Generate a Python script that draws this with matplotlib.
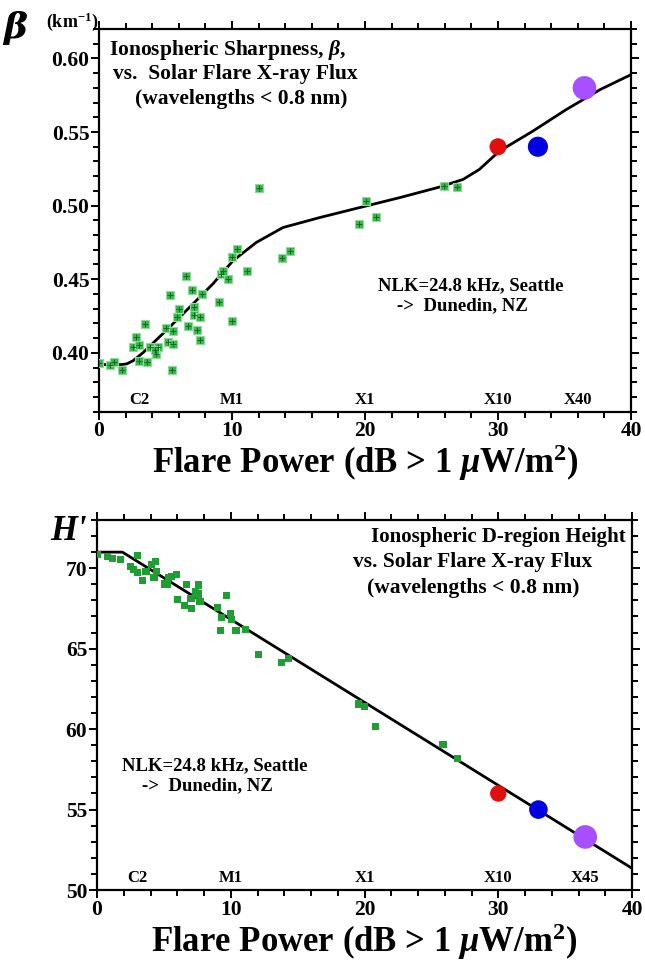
import matplotlib
matplotlib.use("Agg")
import matplotlib.pyplot as plt
from matplotlib.ticker import MultipleLocator

plt.rcParams['font.family'] = ['Liberation Serif', 'DejaVu Serif']
plt.rcParams['font.weight'] = 'bold'
plt.rcParams['mathtext.fontset'] = 'custom'
plt.rcParams['mathtext.rm'] = 'Liberation Serif:bold'
plt.rcParams['mathtext.it'] = 'Liberation Serif:bold:italic'
plt.rcParams['mathtext.bf'] = 'Liberation Serif:bold'

# ---- top panel: sharpness beta ----
beta_x = [0.0, 0.8, 1.13, 1.73, 2.56, 3.0, 2.8, 3.44, 3.0, 3.64, 3.81, 4.26, 4.44, 4.19,
          5.07, 5.19, 5.56, 5.56, 5.47, 5.32, 6.02, 5.86, 6.52, 6.72, 7.02, 7.12, 7.12,
          7.37, 7.57, 7.57, 7.72, 9.05, 9.15, 9.32, 9.67, 10.0, 10.0, 10.4, 11.15, 12.06,
          13.79, 14.34, 20.05, 19.55, 20.8, 25.92, 26.9]
beta_y = [0.3932, 0.3917, 0.3939, 0.3883, 0.404, 0.405, 0.411, 0.4196, 0.3946, 0.3937,
          0.404, 0.3989, 0.404, 0.4018, 0.4169, 0.4074, 0.4147, 0.4057, 0.3881, 0.439,
          0.4295, 0.4243, 0.4523, 0.418, 0.443, 0.431, 0.426, 0.4158, 0.4243, 0.4084,
          0.4401, 0.4345, 0.4536, 0.4554, 0.4503, 0.4216, 0.4653, 0.4705, 0.4559, 0.5118,
          0.4647, 0.4694, 0.5032, 0.4878, 0.4926, 0.5135, 0.5126]
beta_fit_x = [0, 1.7, 2.1, 2.56, 3.3, 5.07, 6.82, 8.57, 10.08, 11.83, 13.83, 16.6, 20.1,
              22.6, 25.6, 27.37, 28.6, 30.1, 32.6, 35.1, 37.65, 40]
beta_fit_y = [0.392, 0.392, 0.3925, 0.3946, 0.400, 0.4153, 0.431, 0.4469, 0.4626, 0.475,
              0.4851, 0.4919, 0.4998, 0.5054, 0.5126, 0.5178, 0.5246, 0.537, 0.5505,
              0.5651, 0.5787, 0.589]

# big flare events (red, blue, purple)
big_x = [30, 33, 36.5]
beta_big = [0.54, 0.54, 0.58]
big_colors = ['#e01010', '#0000e0', '#a850ff']
big_sizes_top = [150, 210, 290]
big_sizes_bot = [140, 180, 290]

# ---- bottom panel: height H' ----
h_x = [0.0, 0.77, 1.17, 1.77, 2.52, 2.72, 3.02, 3.04, 3.41, 3.66, 4.09, 4.34, 4.46, 4.26,
       5.08, 5.33, 5.26, 5.58, 5.91, 6.01, 6.53, 6.71, 7.08, 7.03, 7.35, 7.58, 7.58, 7.70,
       9.02, 9.32, 9.65, 9.2, 10.0, 10.07, 10.39, 11.11, 12.06, 13.8, 14.3, 19.54, 19.99,
       20.81, 25.87, 26.92]
h_y = [70.83, 70.75, 70.63, 70.54, 70.13, 69.92, 69.75, 70.79, 69.23, 69.81, 70.21, 70.42,
       69.79, 69.44, 69.02, 69.44, 69.02, 69.48, 69.63, 68.04, 67.69, 69.0, 67.5, 68.13,
       68.54, 68.96, 68.4, 67.92, 67.56, 66.94, 68.29, 66.15, 67.21, 66.83, 66.15, 66.21,
       64.65, 64.12, 64.37, 61.56, 61.42, 60.17, 59.03, 58.2]
h_fit_x = [0, 1.9, 40]
h_fit_y = [71.0, 71.0, 51.35]
h_big = [56.0, 55.0, 53.3]

class_x_top = [3, 10, 20, 30, 36]
class_lab_top = ['C2', 'M1', 'X1', 'X10', 'X40']
class_x_bot = [3, 10, 20, 30, 36.5]
class_lab_bot = ['C2', 'M1', 'X1', 'X10', 'X45']

fig = plt.figure(figsize=(6.45, 9.67), dpi=100)
ax1 = fig.add_axes([0.1535, 0.5743, 0.8248, 0.3957])
ax2 = fig.add_axes([0.1504, 0.0796, 0.8295, 0.3827])


def style_axis(ax, ymaj, ymin):
    ax.set_xlim(0, 40)
    ax.xaxis.set_major_locator(MultipleLocator(10))
    ax.xaxis.set_minor_locator(MultipleLocator(2))
    ax.yaxis.set_major_locator(MultipleLocator(ymaj))
    ax.yaxis.set_minor_locator(MultipleLocator(ymin))
    for s in ax.spines.values():
        s.set_linewidth(1.6)
    ax.tick_params(which='both', direction='out', top=True, right=True,
                   labeltop=False, labelright=False, width=1.4)
    ax.tick_params(which='major', length=6, labelsize=15.5, pad=1)
    ax.tick_params(which='minor', length=4)
    ax.set_xlabel(r'Flare Power (dB > 1 $\mu$W/m$^{2}$)', fontsize=25,
                  fontweight='bold', labelpad=1)


# top panel
style_axis(ax1, 0.05, 0.01)
ax1.set_ylim(0.36, 0.62)
ax1.set_yticks([0.40, 0.45, 0.50, 0.55, 0.60])
ax1.set_yticklabels(['0.40', '0.45', '0.50', '0.55', '0.60'])
ax1.plot(beta_fit_x, beta_fit_y, color='black', lw=2.0, zorder=2)
ax1.scatter(beta_x, beta_y, marker='s', s=36, color='#3cb450', edgecolors='#8edc98',
            linewidths=0.8, zorder=3)
ax1.scatter(beta_x, beta_y, marker='+', s=14, color='#0d6a20', linewidths=0.7, zorder=4)
ax1.scatter(big_x, beta_big, s=big_sizes_top, c=big_colors, zorder=5, edgecolors='none')

ax1.text(9.68, 0.6059, r'Ionospheric Sharpness, $\beta$,', fontsize=15.5, ha='center', va='center')
ax1.text(10.24, 0.5896, 'vs.  Solar Flare X-ray Flux', fontsize=15.5, ha='center', va='center')
ax1.text(10.73, 0.5727, '(wavelengths < 0.8 nm)', fontsize=15.5, ha='center', va='center')
ax1.text(20.95, 0.4457, 'NLK=24.8 kHz, Seattle', fontsize=13.5, ha='left', va='center')
ax1.text(22.38, 0.4322, '->  Dunedin, NZ', fontsize=13.5, ha='left', va='center')
for x, lab in zip(class_x_top, class_lab_top):
    ax1.text(x, 0.3676, lab, fontsize=12, ha='center', va='center')

# bottom panel
style_axis(ax2, 5, 1)
ax2.set_ylim(50, 73)
ax2.plot(h_fit_x, h_fit_y, color='black', lw=2.0, zorder=2)
ax2.scatter(h_x, h_y, marker='s', s=26, color='#1f9e34', edgecolors='none', zorder=3)
ax2.scatter(big_x, h_big, s=big_sizes_bot, c=big_colors, zorder=5, edgecolors='none')

ax2.text(30.0, 71.93, 'Ionospheric D-region Height', fontsize=15, ha='center', va='center')
ax2.text(28.07, 70.37, 'vs. Solar Flare X-ray Flux', fontsize=15.5, ha='center', va='center')
ax2.text(28.1, 68.75, '(wavelengths < 0.8 nm)', fontsize=15.5, ha='center', va='center')
ax2.text(1.85, 57.72, 'NLK=24.8 kHz, Seattle', fontsize=13.5, ha='left', va='center')
ax2.text(3.34, 56.47, '->  Dunedin, NZ', fontsize=13.5, ha='left', va='center')
for x, lab in zip(class_x_bot, class_lab_bot):
    ax2.text(x, 50.74, lab, fontsize=12, ha='center', va='center')

# axis-corner symbols
fig.text(3 / 645, 1 - 28 / 967, 'β', fontsize=26, family='DejaVu Serif',
         fontstyle='italic', ha='left', va='center')
fig.text(46 / 645, 1 - 22 / 967, r'(km$^{\mathbf{-1}}$)', fontsize=13, ha='left', va='center')
fig.text(50 / 645, 1 - 532 / 967, "H'", fontsize=25, fontstyle='italic',
         ha='left', va='center')

fig.savefig('out.png', dpi=100)
